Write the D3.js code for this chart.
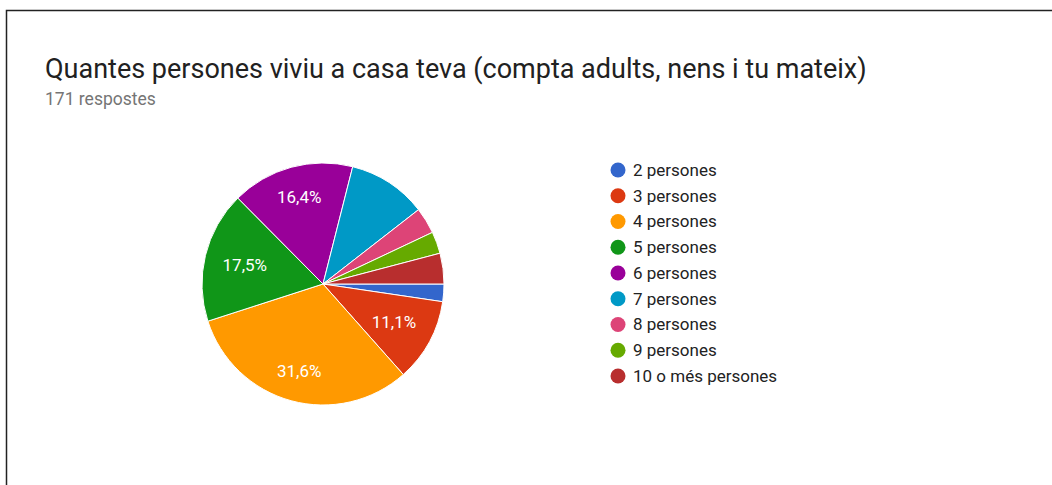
<!DOCTYPE html>
<html>
<head>
<meta charset="utf-8">
<script src="https://cdn.jsdelivr.net/npm/d3@7"></script>
<style>
  body { margin: 0; background: #fff; }
  svg { display: block; font-family: Roboto, Arial, sans-serif; }
</style>
</head>
<body>
<script>
const w = 1052;
const h = 485;

// respostes per categoria (171 en total)
const categories = ['2 persones', '3 persones', '4 persones', '5 persones', '6 persones',
  '7 persones', '8 persones', '9 persones', '10 o més persones'];
const counts = [4, 19, 54, 30, 28, 18, 6, 5, 7];
const colors = ['#3366cc', '#dc3912', '#ff9900', '#109618', '#990099',
  '#0099c6', '#dd4477', '#66aa00', '#b82e2e'];
const total = 171;

const svg = d3.select('body')
  .append('svg')
  .attr('width', w)
  .attr('height', h);

// marc
svg.append('path')
  .attr('d', 'M6.5,' + h + ' V10.5 H' + w)
  .attr('fill', 'none')
  .attr('stroke', '#222')
  .attr('stroke-width', 1.5);

svg.append('text')
  .attr('x', 45)
  .attr('y', 78)
  .attr('font-size', 27)
  .attr('fill', '#212121')
  .text('Quantes persones viviu a casa teva (compta adults, nens i tu mateix)');

svg.append('text')
  .attr('x', 45)
  .attr('y', 105)
  .attr('font-size', 17.5)
  .attr('fill', '#757575')
  .text(total + ' respostes');

const cx = 323, cy = 284, r = 121;

const pie = d3.pie()
  .sort(null)
  .startAngle(Math.PI / 2)
  .endAngle(Math.PI / 2 + 2 * Math.PI);

const arcs = pie(counts);
const arc = d3.arc().innerRadius(0).outerRadius(r);

const g = svg.append('g').attr('transform', 'translate(' + cx + ',' + cy + ')');

g.selectAll('path')
  .data(arcs)
  .enter()
  .append('path')
  .attr('d', arc)
  .attr('fill', (d, i) => colors[i])
  .attr('stroke', '#fff')
  .attr('stroke-width', 1);

const fmt = (v) => (v * 100).toFixed(1).replace('.', ',') + '%';

// etiquetes als sectors grans
arcs.forEach((d) => {
  const frac = d.data / total;
  if (frac < 0.11) return;
  const a = (d.startAngle + d.endAngle) / 2;
  const ux = Math.sin(a), uy = -Math.cos(a);
  const t = g.append('text')
    .attr('font-size', 17)
    .attr('fill', '#fff')
    .attr('text-anchor', 'middle')
    .attr('dominant-baseline', 'central')
    .text(fmt(frac));
  const tw = t.node().getComputedTextLength();
  const dist = 104 - Math.abs(ux) * tw / 2 - Math.abs(uy) * 8;
  t.attr('x', ux * dist).attr('y', uy * dist);
});

const legend = svg.append('g').attr('transform', 'translate(618,170)');

const item = legend.selectAll('g')
  .data(categories)
  .enter()
  .append('g')
  .attr('transform', (d, i) => 'translate(0,' + i * 25.75 + ')');

item.append('circle')
  .attr('r', 7.5)
  .attr('fill', (d, i) => colors[i]);

item.append('text')
  .attr('x', 15)
  .attr('dy', '0.35em')
  .attr('font-size', 17)
  .attr('fill', '#222')
  .text((d) => d);
</script>
</body>
</html>
